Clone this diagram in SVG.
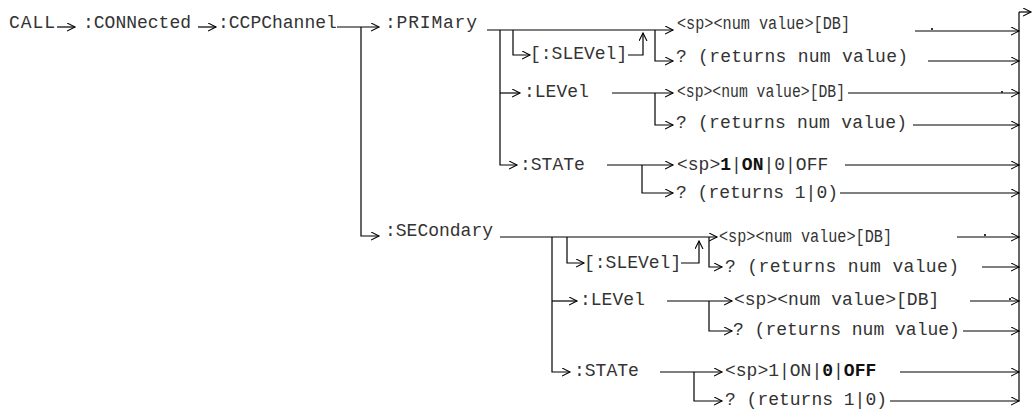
<svg xmlns="http://www.w3.org/2000/svg" width="1033" height="411" viewBox="0 0 1033 411">
<style>
text{font-family:"Liberation Mono","Courier New",monospace;font-size:18px;fill:#333}
.b{font-weight:bold;fill:#111}
.c path{fill:none;stroke:#000;stroke-width:1.2}
.c path.a{marker-end:url(#ah)}
</style>
<defs>
<marker id="ah" markerWidth="10" markerHeight="10" refX="8" refY="4" orient="auto" markerUnits="userSpaceOnUse"><path d="M0,0 L8,4 L0,8" fill="none" stroke="#000" stroke-width="1.1"/></marker>
</defs>
<rect width="1033" height="411" fill="#fff"/>
<g id="call"><text x="9" y="28" textLength="46" lengthAdjust="spacing">CALL</text></g>
<g id="connected"><text x="83" y="28">:CONNected</text></g>
<g id="ccpchannel"><text x="218" y="28">:CCPChannel</text></g>
<g id="primary"><text x="385" y="28" textLength="92" lengthAdjust="spacing">:PRIMary</text></g>
<g id="p-slevel"><text x="530" y="59">[:SLEVel]</text></g>
<g id="p-val"><text x="677" y="29" textLength="173" lengthAdjust="spacingAndGlyphs">&lt;sp&gt;&lt;num value&gt;[DB]</text></g>
<g id="p-q"><text x="676" y="62" textLength="232" lengthAdjust="spacing">? (returns num value)</text></g>
<g id="p-level"><text x="524" y="97">:LEVel</text></g>
<g id="p-level-val"><text x="677" y="97" textLength="168" lengthAdjust="spacingAndGlyphs">&lt;sp&gt;&lt;num value&gt;[DB]</text></g>
<g id="p-level-q"><text x="676" y="128" textLength="231" lengthAdjust="spacing">? (returns num value)</text></g>
<g id="p-state"><text x="520" y="170">:STATe</text></g>
<g id="p-state-val"><text x="677" y="170">&lt;sp&gt;<tspan class="b">1</tspan>|<tspan class="b">ON</tspan>|0|OFF</text></g>
<g id="p-state-q"><text x="676" y="198">? (returns 1|0)</text></g>
<g id="secondary"><text x="385" y="236">:SECondary</text></g>
<g id="s-slevel"><text x="584" y="268">[:SLEVel]</text></g>
<g id="s-val"><text x="719" y="242" textLength="173" lengthAdjust="spacingAndGlyphs">&lt;sp&gt;&lt;num value&gt;[DB]</text></g>
<g id="s-q"><text x="725" y="272" textLength="234" lengthAdjust="spacing">? (returns num value)</text></g>
<g id="s-level"><text x="580" y="305">:LEVel</text></g>
<g id="s-level-val"><text x="734" y="305">&lt;sp&gt;&lt;num value&gt;[DB]</text></g>
<g id="s-level-q"><text x="733" y="335">? (returns num value)</text></g>
<g id="s-state"><text x="574" y="376">:STATe</text></g>
<g id="s-state-val"><text x="725" y="376">&lt;sp&gt;1|ON|<tspan class="b">0</tspan>|<tspan class="b">OFF</tspan></text></g>
<g id="s-state-q"><text x="725" y="405">? (returns 1|0)</text></g>
<g id="connectors" class="c">
<path class="a" d="M57,27 H75"/>
<path class="a" d="M198,27 H216"/>
<path class="a" d="M337,27 H379"/>
<path class="a" d="M361,27 V236 H379"/>
<path class="a" d="M487,30 H673"/>
<path class="a" d="M500,30 V165 H517"/>
<path class="a" d="M500,93 H520"/>
<path class="a" d="M513,30 V55 H530"/>
<path class="a" d="M628,55 H643 V33"/>
<path class="a" d="M655,30 V61 H673"/>
<path class="a" d="M612,93 H673"/>
<path class="a" d="M655,93 V125 H673"/>
<path class="a" d="M607,165 H673"/>
<path class="a" d="M642,165 V193 H673"/>
<path class="a" d="M500,237 H717"/>
<path class="a" d="M552,237 V372 H570"/>
<path class="a" d="M552,301 H577"/>
<path class="a" d="M567,237 V263 H584"/>
<path class="a" d="M681,263 H699 V241"/>
<path class="a" d="M709,237 V267 H722"/>
<path class="a" d="M667,301 H732"/>
<path class="a" d="M709,301 V331 H732"/>
<path class="a" d="M660,372 H722"/>
<path class="a" d="M694,372 V401 H722"/>
<path class="a" d="M915,31 H1019"/>
<path class="a" d="M928,61 H1019"/>
<path class="a" d="M848,93 H1019"/>
<path class="a" d="M913,125 H1019"/>
<path class="a" d="M845,165 H1019"/>
<path class="a" d="M840,193 H1019"/>
<path class="a" d="M957,237 H1019"/>
<path class="a" d="M982,267 H1019"/>
<path class="a" d="M970,301 H1019"/>
<path class="a" d="M963,331 H1019"/>
<path class="a" d="M900,372 H1019"/>
<path class="a" d="M890,401 H1019"/>
<path d="M1019,401 V12"/>
<path class="a" d="M1019,12 H1031"/>
</g>
<g id="dots" fill="#333">
<rect x="931" y="28" width="2" height="2"/>
<rect x="1001" y="91" width="2" height="2"/>
<rect x="984" y="234" width="2" height="2"/>
<rect x="1009" y="298" width="2" height="2"/>
</g>
</svg>
